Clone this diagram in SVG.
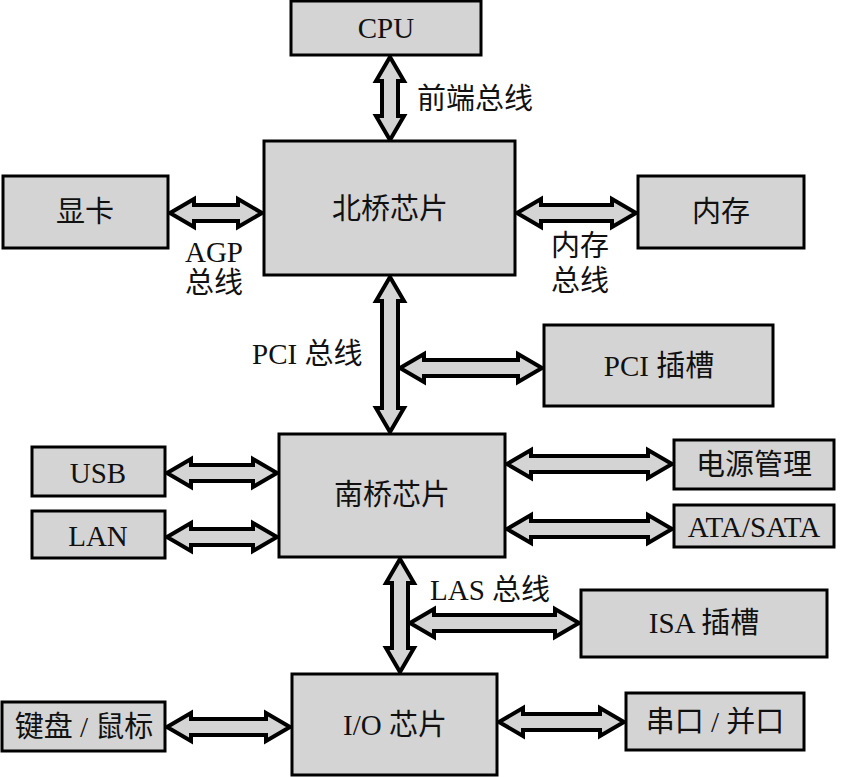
<svg xmlns="http://www.w3.org/2000/svg" width="844" height="777" viewBox="0 0 844 777">
<style>
.box{fill:#d4d4d4;stroke:#000;stroke-width:3}
.arr{fill:#d4d4d4;stroke:#000;stroke-width:4;stroke-linejoin:miter}
text{font-family:"Liberation Serif","Noto Sans CJK SC",serif;font-size:29px;fill:#111}
.c{text-anchor:middle}
</style>
<rect width="844" height="777" fill="#fff"/>
<g id="connectors">
<polygon class="arr" points="390,57 404,81 398,81 398,116 404,116 390,140 376,116 382,116 382,81 376,81"/>
<polygon class="arr" points="170,213 194,199 194,205 238,205 238,199 262,213 238,227 238,221 194,221 194,227"/>
<polygon class="arr" points="517,213 541,199 541,205 612,205 612,199 636,213 612,227 612,221 541,221 541,227"/>
<polygon class="arr" points="400,368 424,354 424,360 518,360 518,354 542,368 518,382 518,376 424,376 424,382"/>
<polygon class="arr" points="390,277 404,301 398,301 398,408 404,408 390,432 376,408 382,408 382,301 376,301"/>
<polygon class="arr" points="410,623 434,609 434,615 555,615 555,609 579,623 555,637 555,631 434,631 434,637"/>
<polygon class="arr" points="400,559 414,583 408,583 408,648 414,648 400,672 386,648 392,648 392,583 386,583"/>
<polygon class="arr" points="167,473 191,459 191,465 253,465 253,459 277,473 253,487 253,481 191,481 191,487"/>
<polygon class="arr" points="167,537 191,523 191,529 253,529 253,523 277,537 253,551 253,545 191,545 191,551"/>
<polygon class="arr" points="507,464 531,450 531,456 648,456 648,450 672,464 648,478 648,472 531,472 531,478"/>
<polygon class="arr" points="507,529 531,515 531,521 648,521 648,515 672,529 648,543 648,537 531,537 531,543"/>
<polygon class="arr" points="167,727 191,713 191,719 266,719 266,713 290,727 266,741 266,735 191,735 191,741"/>
<polygon class="arr" points="499,722 523,708 523,714 600,714 600,708 624,722 600,736 600,730 523,730 523,736"/>
<text x="417" y="109">前端总线</text>
<text class="c" x="214" y="262">AGP</text>
<text class="c" x="214" y="293">总线</text>
<text class="c" x="580" y="256">内存</text>
<text class="c" x="580" y="291">总线</text>
<text x="252" y="364">PCI 总线</text>
<text x="430" y="600">LAS 总线</text>
</g>
<g id="cpu"><rect class="box" x="291" y="1" width="190" height="54"/><text class="c" x="386" y="38">CPU</text></g>
<g id="northbridge"><rect class="box" x="264" y="141" width="251" height="134"/><text class="c" x="390" y="219">北桥芯片</text></g>
<g id="gpu"><rect class="box" x="3" y="176" width="165" height="72"/><text class="c" x="85" y="222">显卡</text></g>
<g id="memory"><rect class="box" x="638" y="176" width="166" height="72"/><text class="c" x="721" y="222">内存</text></g>
<g id="pcislot"><rect class="box" x="544" y="325" width="229" height="81"/><text class="c" x="659" y="376">PCI 插槽</text></g>
<g id="southbridge"><rect class="box" x="279" y="434" width="226" height="123"/><text class="c" x="392" y="505">南桥芯片</text></g>
<g id="usb"><rect class="box" x="32" y="447" width="133" height="49"/><text class="c" x="98" y="483">USB</text></g>
<g id="lan"><rect class="box" x="32" y="511" width="133" height="47"/><text class="c" x="98" y="546">LAN</text></g>
<g id="power"><rect class="box" x="674" y="440" width="160" height="49"/><text class="c" x="754" y="475">电源管理</text></g>
<g id="ata"><rect class="box" x="674" y="505" width="160" height="42"/><text class="c" x="754" y="537">ATA/SATA</text></g>
<g id="isaslot"><rect class="box" x="581" y="590" width="246" height="67"/><text class="c" x="704" y="633">ISA 插槽</text></g>
<g id="io"><rect class="box" x="292" y="674" width="205" height="101"/><text class="c" x="395" y="735">I/O 芯片</text></g>
<g id="keyboard"><rect class="box" x="2" y="702" width="163" height="49"/><text class="c" x="84" y="737">键盘 / 鼠标</text></g>
<g id="serial"><rect class="box" x="626" y="693" width="178" height="57"/><text class="c" x="715" y="732">串口 / 并口</text></g>
</svg>
